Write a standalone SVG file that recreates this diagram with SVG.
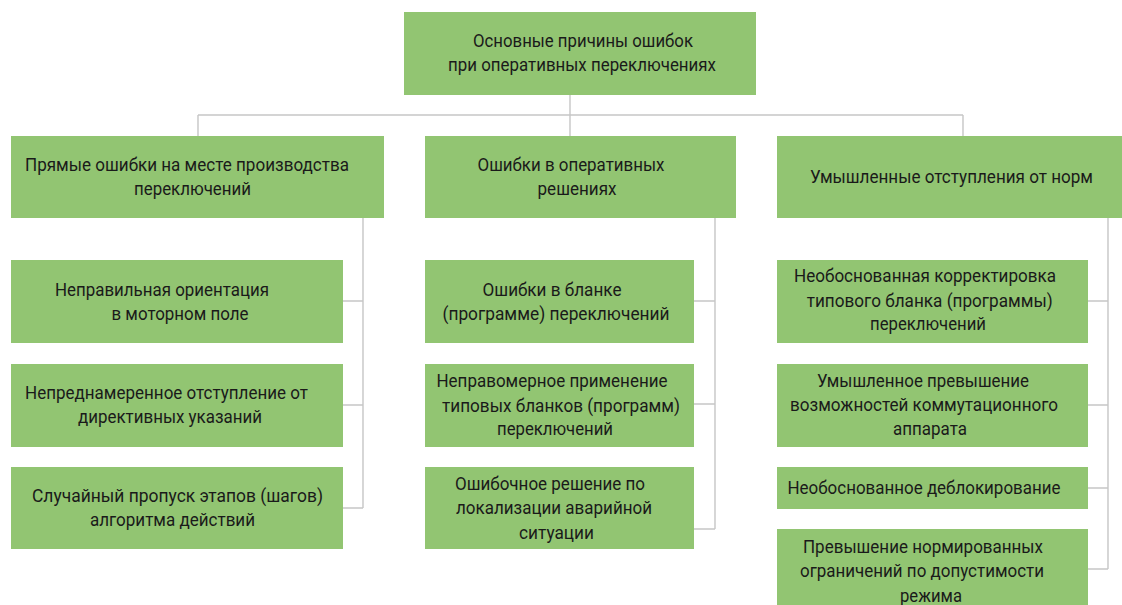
<svg xmlns="http://www.w3.org/2000/svg" width="1122" height="605" viewBox="0 0 1122 605">
  <style>
    .box { fill: #92C572; }
    .lbl { font-family: "Roboto", "Liberation Sans", sans-serif; font-size: 18.5px; fill: #1a1a1a; text-anchor: middle; }
    .wire { fill: none; stroke: #c6c6c6; stroke-width: 1.4; }
  </style>
  <rect width="1122" height="605" fill="#ffffff"/>

  <!-- connectors -->
  <g id="connectors" class="wire">
    <path d="M570 95 V136 M198 115 H963 M198 115 V136 M963 115 V136"/>
    <path d="M363 218 V508 M343 301 H363 M343 405 H363 M343 508 H363"/>
    <path d="M715 218 V529 M694 301 H715 M694 404 H715 M694 529 H715"/>
    <path d="M1108 218 V569 M1088 301 H1108 M1088 405 H1108 M1088 488 H1108 M1088 569 H1108"/>
  </g>

  <!-- root -->
  <g id="root">
    <rect class="box" x="404" y="12" width="352" height="83"/>
    <text class="lbl" x="583" y="47" textLength="220" lengthAdjust="spacingAndGlyphs">Основные причины ошибок</text>
    <text class="lbl" x="582" y="71" textLength="268" lengthAdjust="spacingAndGlyphs">при оперативных переключениях</text>
  </g>

  <!-- column 1 -->
  <g id="direct-errors">
    <rect class="box" x="11" y="136" width="373" height="82"/>
    <text class="lbl" x="187" y="171" textLength="324" lengthAdjust="spacingAndGlyphs">Прямые ошибки на месте производства</text>
    <text class="lbl" x="192.5" y="195" textLength="117" lengthAdjust="spacingAndGlyphs">переключений</text>
  </g>
  <g id="wrong-orientation">
    <rect class="box" x="11" y="260" width="332" height="83"/>
    <text class="lbl" x="162" y="296" textLength="214" lengthAdjust="spacingAndGlyphs">Неправильная ориентация</text>
    <text class="lbl" x="180" y="320" textLength="137" lengthAdjust="spacingAndGlyphs">в моторном поле</text>
  </g>
  <g id="unintended-deviation">
    <rect class="box" x="11" y="364" width="332" height="83"/>
    <text class="lbl" x="166.5" y="399" textLength="283" lengthAdjust="spacingAndGlyphs">Непреднамеренное отступление от</text>
    <text class="lbl" x="170" y="423" textLength="184" lengthAdjust="spacingAndGlyphs">директивных указаний</text>
  </g>
  <g id="skipped-steps">
    <rect class="box" x="11" y="467" width="332" height="82"/>
    <text class="lbl" x="177.5" y="502" textLength="291" lengthAdjust="spacingAndGlyphs">Случайный пропуск этапов (шагов)</text>
    <text class="lbl" x="172.5" y="526" textLength="165" lengthAdjust="spacingAndGlyphs">алгоритма действий</text>
  </g>

  <!-- column 2 -->
  <g id="operational-errors">
    <rect class="box" x="425" y="136" width="311" height="82"/>
    <text class="lbl" x="571" y="171" textLength="187" lengthAdjust="spacingAndGlyphs">Ошибки в оперативных</text>
    <text class="lbl" x="577" y="195" textLength="79" lengthAdjust="spacingAndGlyphs">решениях</text>
  </g>
  <g id="form-errors">
    <rect class="box" x="425" y="260" width="269" height="83"/>
    <text class="lbl" x="552" y="296" textLength="139" lengthAdjust="spacingAndGlyphs">Ошибки в бланке</text>
    <text class="lbl" x="556" y="320" textLength="227" lengthAdjust="spacingAndGlyphs">(программе) переключений</text>
  </g>
  <g id="improper-forms">
    <rect class="box" x="425" y="364" width="269" height="83"/>
    <text class="lbl" x="552" y="387" textLength="231" lengthAdjust="spacingAndGlyphs">Неправомерное применение</text>
    <text class="lbl" x="561" y="411.5" textLength="238" lengthAdjust="spacingAndGlyphs">типовых бланков (программ)</text>
    <text class="lbl" x="555" y="435" textLength="116" lengthAdjust="spacingAndGlyphs">переключений</text>
  </g>
  <g id="wrong-localization">
    <rect class="box" x="425" y="467" width="269" height="82"/>
    <text class="lbl" x="550" y="490" textLength="190" lengthAdjust="spacingAndGlyphs">Ошибочное решение по</text>
    <text class="lbl" x="554" y="514" textLength="196" lengthAdjust="spacingAndGlyphs">локализации аварийной</text>
    <text class="lbl" x="556.5" y="539" textLength="75" lengthAdjust="spacingAndGlyphs">ситуации</text>
  </g>

  <!-- column 3 -->
  <g id="deliberate-deviations">
    <rect class="box" x="777" y="136" width="345" height="82"/>
    <text class="lbl" x="951.5" y="183" textLength="283" lengthAdjust="spacingAndGlyphs">Умышленные отступления от норм</text>
  </g>
  <g id="unjustified-correction">
    <rect class="box" x="777" y="260" width="311" height="83"/>
    <text class="lbl" x="925" y="282" textLength="262" lengthAdjust="spacingAndGlyphs">Необоснованная корректировка</text>
    <text class="lbl" x="929.7" y="306.5" textLength="246" lengthAdjust="spacingAndGlyphs">типового бланка (программы)</text>
    <text class="lbl" x="928" y="330" textLength="116" lengthAdjust="spacingAndGlyphs">переключений</text>
  </g>
  <g id="device-overload">
    <rect class="box" x="777" y="364" width="311" height="83"/>
    <text class="lbl" x="923" y="387" textLength="212" lengthAdjust="spacingAndGlyphs">Умышленное превышение</text>
    <text class="lbl" x="924" y="411" textLength="268" lengthAdjust="spacingAndGlyphs">возможностей коммутационного</text>
    <text class="lbl" x="930" y="435" textLength="74" lengthAdjust="spacingAndGlyphs">аппарата</text>
  </g>
  <g id="unjustified-unlocking">
    <rect class="box" x="777" y="467" width="311" height="42"/>
    <text class="lbl" x="924" y="493.5" textLength="273" lengthAdjust="spacingAndGlyphs">Необоснованное деблокирование</text>
  </g>
  <g id="mode-limits">
    <rect class="box" x="777" y="529" width="311" height="76"/>
    <text class="lbl" x="923" y="553" textLength="240" lengthAdjust="spacingAndGlyphs">Превышение нормированных</text>
    <text class="lbl" x="922" y="577" textLength="244" lengthAdjust="spacingAndGlyphs">ограничений по допустимости</text>
    <text class="lbl" x="931" y="601.5" textLength="62" lengthAdjust="spacingAndGlyphs">режима</text>
  </g>
</svg>
